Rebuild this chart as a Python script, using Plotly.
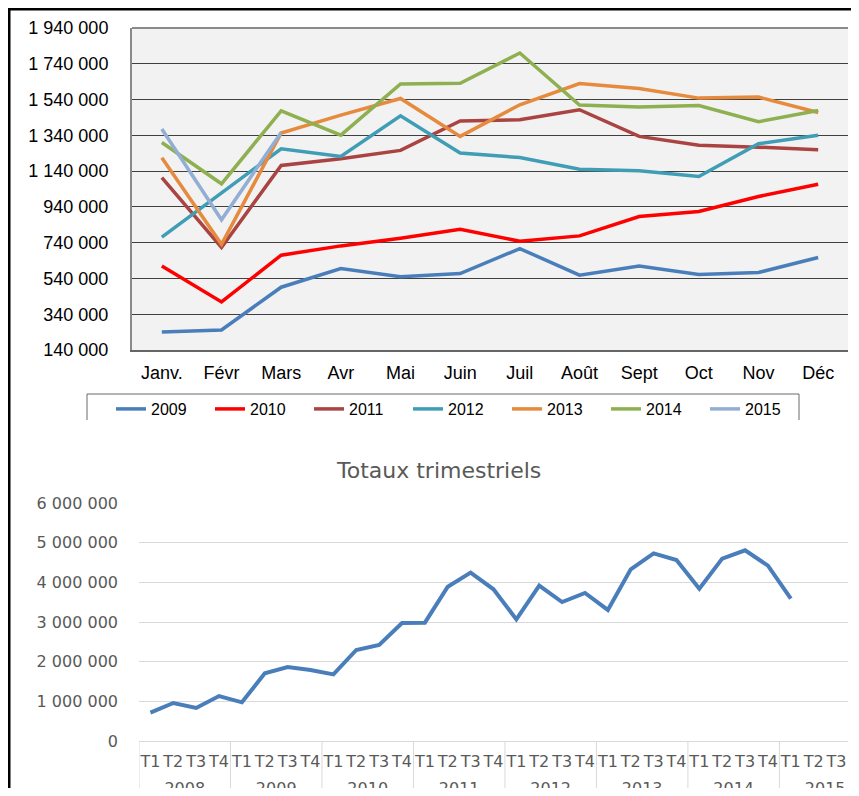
import plotly.graph_objects as go

# ---------------- data ----------------
months = ["Janv.", "Févr", "Mars", "Avr", "Mai", "Juin", "Juil", "Août", "Sept", "Oct", "Nov", "Déc"]

v2009 = [240000, 252000, 491000, 595000, 549000, 567000, 707000, 558000, 610000, 562000, 573000, 657000]
v2010 = [610000, 409000, 670000, 722000, 765000, 815000, 748000, 778000, 886000, 914000, 998000, 1067000]
v2011 = [1104000, 713000, 1172000, 1209000, 1256000, 1420000, 1427000, 1483000, 1334000, 1284000, 1274000, 1259000]
v2012 = [771000, 1020000, 1265000, 1222000, 1449000, 1241000, 1216000, 1151000, 1142000, 1110000, 1293000, 1341000]
v2013 = [1215000, 731000, 1353000, 1453000, 1546000, 1334000, 1511000, 1629000, 1602000, 1548000, 1554000, 1468000]
v2014 = [1300000, 1069000, 1477000, 1341000, 1627000, 1631000, 1800000, 1509000, 1498000, 1507000, 1416000, 1479000]
v2015 = [1375000, 868000, 1356000]

series_names = ["2009", "2010", "2011", "2012", "2013", "2014", "2015"]
series_values = [v2009, v2010, v2011, v2012, v2013, v2014, v2015]
series_colors = ["#4a7ebb", "#ff0000", "#a94442", "#3f9db5", "#e68a3e", "#8eb050", "#92aed3"]

top_yticks = [140000, 340000, 540000, 740000, 940000, 1140000, 1340000, 1540000, 1740000, 1940000]

q_years = ["2008", "2009", "2010", "2011", "2012", "2013", "2014", "2015"]
q_quarters = ["T1", "T2", "T3", "T4"]
q_count_last_year = 3
q_totals = [715000, 958000, 832000, 1134000,
            975000, 1706000, 1866000, 1790000,
            1680000, 2294000, 2420000, 2975000,
            2983000, 3890000, 4244000, 3824000,
            3067000, 3916000, 3504000, 3731000,
            3303000, 4328000, 4731000, 4563000,
            3840000, 4597000, 4807000, 4420000,
            3588000, None, None]
bottom_yticks = [0, 1000000, 2000000, 3000000, 4000000, 5000000, 6000000]
bottom_title = "Totaux trimestriels"

# ---------------- helpers (page pixel -> paper) ----------------
OX, OY = 8, 8      # default page body margin
W, H = 843, 780


def px(x):
    return (x - OX) / W


def py(y):
    return 1 - (y - OY) / H


def fmt(v):
    return f"{v:,}".replace(",", " ")


q_cats = []
q_labels = []
for yi, yr in enumerate(q_years):
    n = q_count_last_year if yi == len(q_years) - 1 else 4
    for q in q_quarters[:n]:
        q_cats.append(f"{yr} {q}")
        q_labels.append(q)

# year group positions
year_centers = []
dividers = []
start = 0
for yi, yr in enumerate(q_years):
    n = q_count_last_year if yi == len(q_years) - 1 else 4
    year_centers.append(start + 1.5)
    dividers.append(start - 0.5)
    start += n

fig = go.Figure()

for name, vals, col in zip(series_names, series_values, series_colors):
    fig.add_trace(go.Scatter(
        x=months[:len(vals)], y=vals, name=name, mode="lines",
        line=dict(color=col, width=3.5), xaxis="x", yaxis="y",
    ))

fig.add_trace(go.Scatter(
    x=q_cats, y=q_totals, mode="lines", showlegend=False,
    line=dict(color="#4a7ebb", width=4), xaxis="x2", yaxis="y2",
))

# empty helper trace so that the year-label axis (x3) is drawn
fig.add_trace(go.Scatter(
    x=year_centers, y=[None] * len(year_centers), mode="lines", showlegend=False,
    hoverinfo="skip", xaxis="x3", yaxis="y2",
))

shapes = []
# top plot area fill
shapes.append(dict(type="rect", xref="paper", yref="paper", x0=px(132), x1=px(848), y0=py(350), y1=py(28),
                   fillcolor="#f2f2f2", line=dict(width=0), layer="below"))
# outer black frame (left and top)
shapes.append(dict(type="line", xref="paper", yref="paper", x0=px(9), x1=px(9), y0=py(8), y1=py(800),
                   line=dict(color="black", width=3)))
shapes.append(dict(type="line", xref="paper", yref="paper", x0=px(8), x1=px(870), y0=py(9), y1=py(9),
                   line=dict(color="black", width=3)))
# top plot border top
shapes.append(dict(type="line", xref="paper", yref="paper", x0=px(132), x1=px(848), y0=py(28), y1=py(28),
                   line=dict(color="#8a8a8a", width=2)))
# legend box (open at bottom)
for (x0, y0, x1, y1) in [(87, 394, 799, 394), (87, 394, 87, 420), (799, 394, 799, 420)]:
    shapes.append(dict(type="line", xref="paper", yref="paper", x0=px(x0), x1=px(x1), y0=py(y0), y1=py(y1),
                       line=dict(color="#6b6b6b", width=1)))
# dividers on bottom axis
for d in dividers:
    shapes.append(dict(type="line", xref="x2", yref="paper", x0=d, x1=d, y0=py(741), y1=py(800),
                       line=dict(color="#d9d9d9", width=1)))

top_font = dict(family="Liberation Sans, Arial, sans-serif", size=18, color="black")
bot_font = dict(family="DejaVu Sans, sans-serif", size=16, color="#595959")
q_font = dict(family="DejaVu Sans, sans-serif", size=16, color="#595959")

fig.update_layout(
    width=W, height=H,
    margin=dict(l=0, r=0, t=0, b=0, autoexpand=False),
    paper_bgcolor="white",
    plot_bgcolor="rgba(0,0,0,0)",
    showlegend=True,
    legend=dict(orientation="h", x=px(111), y=py(409), xanchor="left", yanchor="middle",
                font=dict(family="Liberation Sans, Arial, sans-serif", size=16, color="black"),
                entrywidth=54, entrywidthmode="pixels", bgcolor="rgba(0,0,0,0)", borderwidth=0,
                itemclick=False),
    xaxis=dict(domain=[px(132), px(848)], anchor="y", type="category", categoryorder="array",
               categoryarray=months, range=[-0.5, 11.5], showgrid=False, automargin=False,
               showline=True, linecolor="#666666", linewidth=2, ticks="", tickfont=top_font,
               ticklabelstandoff=5, tickangle=0, fixedrange=True),
    yaxis=dict(domain=[py(350), py(28)], anchor="x", range=[140000, 1940000], automargin=False,
               tickvals=top_yticks, ticktext=[fmt(v) for v in top_yticks],
               showgrid=True, gridcolor="#404040", gridwidth=1, zeroline=False,
               showline=True, linecolor="#8a8a8a", linewidth=2, ticks="", tickfont=top_font,
               ticklabelstandoff=18, fixedrange=True),
    xaxis2=dict(domain=[px(139), px(848)], anchor="y2", type="category", categoryorder="array",
                categoryarray=q_cats, range=[-0.5, len(q_cats) - 0.5], automargin=False,
                tickvals=q_cats, ticktext=q_labels, showgrid=False,
                showline=True, linecolor="#d9d9d9", linewidth=1, ticks="", tickfont=q_font,
                ticklabelstandoff=6, tickangle=0, fixedrange=True),
    xaxis3=dict(overlaying="x2", anchor="y2", side="bottom", type="linear",
                range=[-0.5, len(q_cats) - 0.5],
                tickvals=year_centers, ticktext=q_years, showgrid=False, showline=False,
                zeroline=False, ticks="", tickfont=q_font, ticklabelstandoff=36, tickangle=0,
                automargin=False, fixedrange=True),
    yaxis2=dict(domain=[py(741), py(503)], anchor="x2", range=[0, 6000000], automargin=False,
                tickvals=bottom_yticks, ticktext=[fmt(v) for v in bottom_yticks],
                showgrid=True, gridcolor="#d9d9d9", gridwidth=1, zeroline=False,
                showline=False, ticks="", tickfont=bot_font, ticklabelstandoff=20, fixedrange=True),
    shapes=shapes,
    annotations=[dict(text=bottom_title, xref="paper", yref="paper", x=px(438), y=py(470),
                      xanchor="center", yanchor="middle", showarrow=False,
                      font=dict(family="DejaVu Sans, sans-serif", size=22, color="#595959"))],
)

fig.write_html("out.html")
